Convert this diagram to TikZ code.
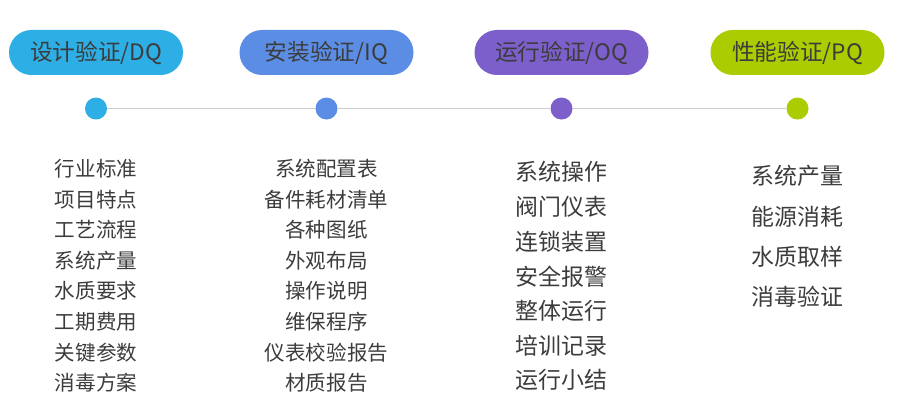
\documentclass[tikz,border=0pt]{standalone}
\usepackage{fontspec}
\setmainfont{Noto Sans CJK SC}
\usetikzlibrary{positioning}
\definecolor{dqblue}{HTML}{2DAEE4}
\definecolor{iqblue}{HTML}{5C8DE4}
\definecolor{oqpurple}{HTML}{7C5FCB}
\definecolor{pqgreen}{HTML}{AACC00}
\definecolor{txtgray}{HTML}{3C3C3C}
\definecolor{linegray}{HTML}{D2CAD2}
\tikzset{
  phase node/.style={rounded corners=16.8pt, minimum width=130.5pt, minimum height=33.75pt,
    inner sep=0pt, text=txtgray, font=\fontsize{17pt}{17pt}\selectfont},
  dot node/.style={circle, minimum size=16.5pt, inner sep=0pt},
  item/.style={inner sep=0pt, text=txtgray},
  small item/.style={item, minimum height=22.5pt, font=\fontsize{15.4pt}{15.4pt}\selectfont},
  oq item/.style={item, minimum height=25.6pt, font=\fontsize{17.2pt}{17.2pt}\selectfont},
  pq item/.style={item, minimum height=29.7pt, font=\fontsize{17.2pt}{17.2pt}\selectfont}
}

\begin{document}
\begin{tikzpicture}[x=0.75pt, y=-0.75pt]
    \useasboundingbox (0,0) rectangle (900,413);
    % the four phases
    \node[phase node, fill=dqblue] (DQ) at (96,52.5) {设计验证/DQ};
    \node[phase node, fill=iqblue] (IQ) at (326.5,52.5) {安装验证/IQ};
    \node[phase node, fill=oqpurple] (OQ) at (561.5,52.5) {运行验证/OQ};
    \node[phase node, fill=pqgreen] (PQ) at (797.5,52.5) {性能验证/PQ};

    % dots on the time line
    \node[dot node, fill=dqblue] (dot1) [below=16.5pt of DQ] {};
    \node[dot node, fill=iqblue] (dot2) [below=16.5pt of IQ] {};
    \node[dot node, fill=oqpurple] (dot3) [below=16.5pt of OQ] {};
    \node[dot node, fill=pqgreen] (dot4) [below=16.5pt of PQ] {};

    \path[draw, linegray, line width=0.75pt]
    (dot1) edge (dot2)
    (dot2) edge (dot3)
    (dot3) edge (dot4);

    % DQ list
    \node[small item] (dq1) [below=25.5pt of dot1] {行业标准};
    \node[small item] (dq2) [below=0pt of dq1] {项目特点};
    \node[small item] (dq3) [below=0pt of dq2] {工艺流程};
    \node[small item] (dq4) [below=0pt of dq3] {系统产量};
    \node[small item] (dq5) [below=0pt of dq4] {水质要求};
    \node[small item] (dq6) [below=0pt of dq5] {工期费用};
    \node[small item] (dq7) [below=0pt of dq6] {关键参数};
    \node[small item] (dq8) [below=0pt of dq7] {消毒方案};

    % IQ list
    \node[small item] (iq1) [below=25.5pt of dot2] {系统配置表};
    \node[small item] (iq2) [below=0pt of iq1] {备件耗材清单};
    \node[small item] (iq3) [below=0pt of iq2] {各种图纸};
    \node[small item] (iq4) [below=0pt of iq3] {外观布局};
    \node[small item] (iq5) [below=0pt of iq4] {操作说明};
    \node[small item] (iq6) [below=0pt of iq5] {维保程序};
    \node[small item] (iq7) [below=0pt of iq6] {仪表校验报告};
    \node[small item] (iq8) [below=0pt of iq7] {材质报告};

    % OQ list
    \node[oq item] (oq1) [below=26.3pt of dot3] {系统操作};
    \node[oq item] (oq2) [below=0pt of oq1] {阀门仪表};
    \node[oq item] (oq3) [below=0pt of oq2] {连锁装置};
    \node[oq item] (oq4) [below=0pt of oq3] {安全报警};
    \node[oq item] (oq5) [below=0pt of oq4] {整体运行};
    \node[oq item] (oq6) [below=0pt of oq5] {培训记录};
    \node[oq item] (oq7) [below=0pt of oq6] {运行小结};

    % PQ list
    \node[pq item] (pq1) [below=27.3pt of dot4] {系统产量};
    \node[pq item] (pq2) [below=0pt of pq1] {能源消耗};
    \node[pq item] (pq3) [below=0pt of pq2] {水质取样};
    \node[pq item] (pq4) [below=0pt of pq3] {消毒验证};
\end{tikzpicture}
\end{document}
